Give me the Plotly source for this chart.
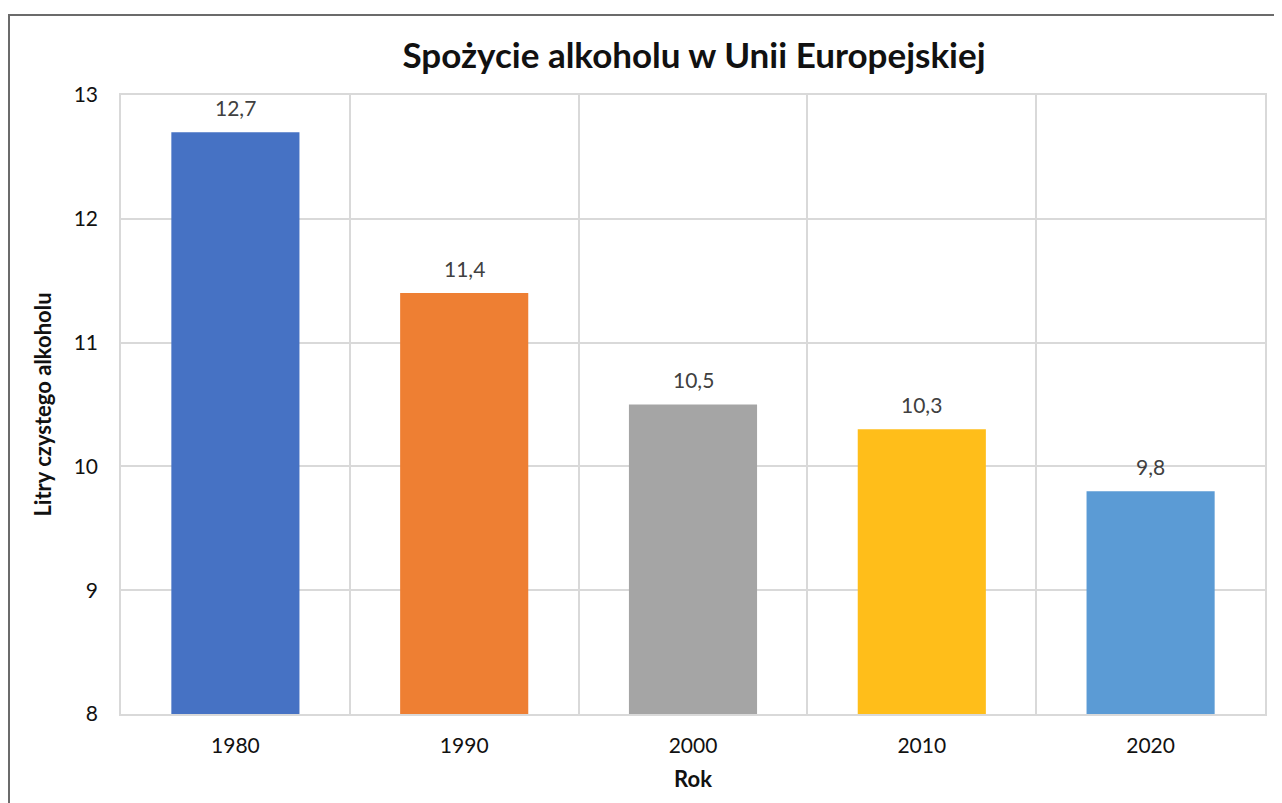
import plotly.graph_objects as go

years = ["1980", "1990", "2000", "2010", "2020"]
values = [12.7, 11.4, 10.5, 10.3, 9.8]
bar_colors = ["#4672c4", "#ee7f33", "#a5a5a5", "#ffbe1a", "#5b9bd5"]
labels = [f"{v:.1f}".replace(".", ",") for v in values]
y_ticks = [8, 9, 10, 11, 12, 13]

FONT = "Lato, 'Open Sans', sans-serif"

fig = go.Figure()
fig.add_trace(go.Bar(
    x=years, y=values,
    marker=dict(color=bar_colors, line=dict(width=0)),
    width=0.56, hoverinfo="skip", showlegend=False,
))

for i, (v, lab) in enumerate(zip(values, labels)):
    fig.add_annotation(x=i, y=v, text=lab, showarrow=False, yshift=25,
                       yanchor="middle", font=dict(family=FONT, size=21, color="#404040"))

OFF = 8  # page body offset
W, H = 1282, 803
ml, mt = 121 - OFF, 95 - OFF
pw, ph = 1144, 619
mr = W - ml - pw
mb = H - mt - ph

def px_to_paper_x(px):
    return (px - OFF - ml) / pw

def px_to_paper_y(py):
    return (mt + ph - (py - OFF)) / ph

fig.add_shape(type="rect", xref="paper", yref="paper",
              x0=px_to_paper_x(9), x1=px_to_paper_x(1320),
              y0=px_to_paper_y(840), y1=px_to_paper_y(15),
              line=dict(color="#6b6b6b", width=2), fillcolor="rgba(0,0,0,0)", layer="below")

fig.update_layout(
    width=W, height=H,
    margin=dict(l=ml, r=mr, t=mt, b=mb, autoexpand=False),
    paper_bgcolor="white", plot_bgcolor="white",
    font=dict(family=FONT, color="#111111"),
    title=dict(text="<b>Spożycie alkoholu w Unii Europejskiej</b>",
               x=px_to_paper_x(694), xref="paper", xanchor="center",
               y=1 - (56 - OFF) / H, yref="container", yanchor="middle",
               font=dict(family=FONT, size=35, color="#111111")),
)

fig.update_xaxes(
    type="category", categoryorder="array", categoryarray=years,
    tickson="boundaries", tickangle=0, automargin=False,
    showgrid=True, gridcolor="#d9d9d9", gridwidth=1.5,
    showline=True, linecolor="#d9d9d9", linewidth=1.5, mirror=True,
    ticks="", ticklabelstandoff=12,
    tickfont=dict(family=FONT, size=21, color="#111111"),
    title=dict(text="<b>Rok</b>", standoff=16, font=dict(family=FONT, size=22, color="#111111")),
)
fig.update_yaxes(
    range=[8, 13], tickvals=y_ticks, automargin=False,
    showgrid=True, gridcolor="#d9d9d9", gridwidth=1.5,
    showline=True, linecolor="#d9d9d9", linewidth=1.5, mirror=True,
    zeroline=False, ticks="", ticklabelstandoff=17,
    tickfont=dict(family=FONT, size=21, color="#111111"),
    title=dict(text="<b>Litry czystego alkoholu</b>", standoff=16,
               font=dict(family=FONT, size=22, color="#111111")),
)

fig.write_html("out.html")
